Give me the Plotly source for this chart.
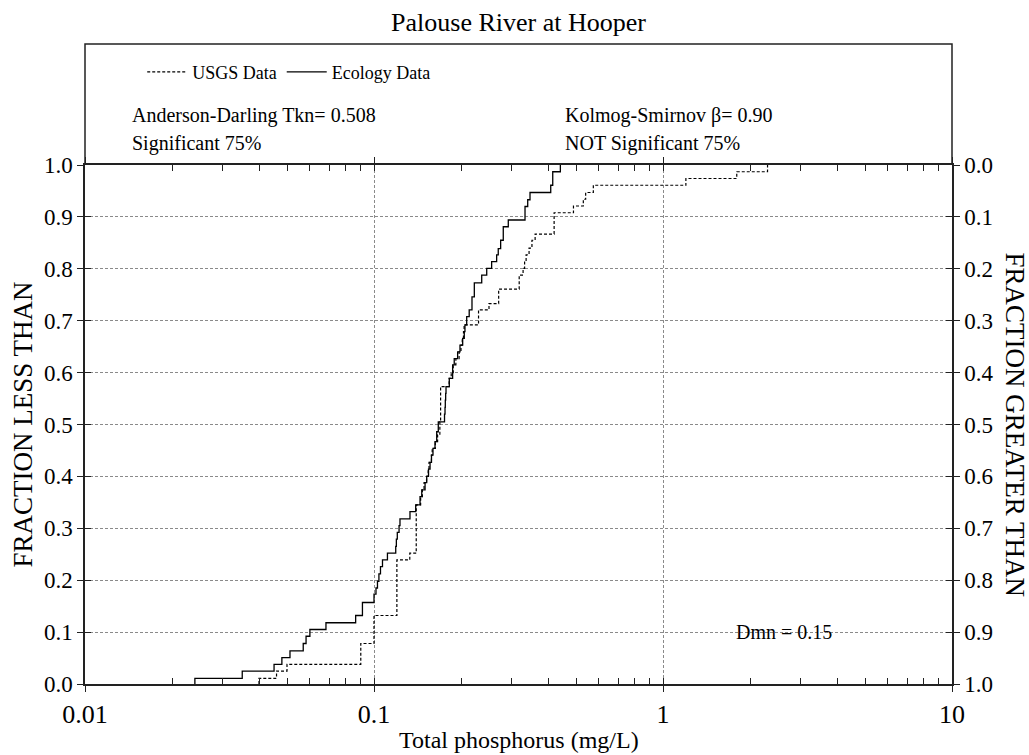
import plotly.graph_objects as go

# Total phosphorus (mg/L) at each step of the empirical CDF, and the
# cumulative fraction reached after that step.
usgs_tp = [0.040, 0.046, 0.050, 0.090, 0.100, 0.120, 0.133, 0.140, 0.145, 0.147,
           0.149, 0.152, 0.154, 0.155, 0.158, 0.159, 0.163, 0.166, 0.169, 0.170,
           0.182, 0.185, 0.188, 0.192, 0.197, 0.200, 0.202, 0.204, 0.205, 0.230,
           0.250, 0.270, 0.318, 0.328, 0.332, 0.336, 0.344, 0.352, 0.361, 0.420,
           0.490, 0.530, 0.540, 0.574, 1.20, 1.80, 2.30]
usgs_frac = [0.011, 0.025, 0.038, 0.078, 0.132, 0.239, 0.252, 0.345, 0.361, 0.374,
             0.388, 0.400, 0.414, 0.427, 0.441, 0.454, 0.467, 0.480, 0.505, 0.573,
             0.589, 0.600, 0.615, 0.627, 0.640, 0.653, 0.666, 0.679, 0.692, 0.721,
             0.733, 0.761, 0.788, 0.801, 0.814, 0.827, 0.840, 0.855, 0.867, 0.908,
             0.921, 0.934, 0.947, 0.961, 0.974, 0.987, 1.000]

eco_tp = [0.0240, 0.0350, 0.0451, 0.0480, 0.0512, 0.0569, 0.0582, 0.0600, 0.0682, 0.0864,
          0.0912, 0.1000, 0.1016, 0.1028, 0.1040, 0.1053, 0.1070, 0.1113, 0.1189, 0.1195,
          0.1204, 0.1221, 0.1230, 0.1332, 0.1394, 0.1443, 0.1463, 0.1502, 0.1522, 0.1544,
          0.1563, 0.1581, 0.1600, 0.1626, 0.1648, 0.1669, 0.1754, 0.1761, 0.1765, 0.1770,
          0.1775, 0.1822, 0.1871, 0.1895, 0.1947, 0.1984, 0.2027, 0.2053, 0.2064, 0.2093,
          0.2135, 0.2183, 0.2224, 0.2359, 0.2455, 0.2553, 0.2657, 0.2691, 0.2743, 0.2801,
          0.2915, 0.3331, 0.3403, 0.3466, 0.4088, 0.4154, 0.4414]
eco_frac = [0.011, 0.025, 0.038, 0.051, 0.064, 0.078, 0.092, 0.105, 0.118, 0.132,
            0.157, 0.173, 0.185, 0.198, 0.212, 0.226, 0.239, 0.252, 0.265, 0.279,
            0.292, 0.305, 0.318, 0.332, 0.345, 0.361, 0.374, 0.388, 0.400, 0.414,
            0.427, 0.441, 0.454, 0.467, 0.486, 0.505, 0.520, 0.533, 0.547, 0.560,
            0.573, 0.589, 0.615, 0.627, 0.640, 0.653, 0.666, 0.679, 0.692, 0.708,
            0.721, 0.746, 0.773, 0.788, 0.801, 0.814, 0.827, 0.839, 0.855, 0.881,
            0.894, 0.920, 0.933, 0.947, 0.961, 0.987, 1.000]

x_major = [0.01, 0.1, 1, 10]
x_major_text = ["0.01", "0.1", "1", "10"]
y_ticks = [i / 10 for i in range(11)]
y_tick_text = [f"{v:.1f}" for v in y_ticks]

SERIF = "Liberation Serif, Times New Roman, serif"
GRID = "#8a8a8a"
AXIS = "#222222"


def ecdf_path(tp, frac):
    # start the staircase on the zero line below the first observation
    return [tp[0]] + list(tp), [0.0] + list(frac)


fig = go.Figure()
ux, uy = ecdf_path(usgs_tp, usgs_frac)
ex, ey = ecdf_path(eco_tp, eco_frac)
fig.add_trace(go.Scatter(x=ux, y=uy, mode="lines", name="USGS Data",
                         line=dict(shape="hv", color="black", width=1.2, dash="3px,2px")))
fig.add_trace(go.Scatter(x=ex, y=ey, mode="lines", name="Ecology Data",
                         line=dict(shape="hv", color="black", width=1.3)))

# exceedance view of the same sample, registered on the right-hand scale
# (FRACTION GREATER THAN) and on the inner-tick overlay axes; drawn with no ink
fig.add_trace(go.Scatter(x=ex, y=[1 - v for v in ey], mode="none", xaxis="x2", yaxis="y2",
                         showlegend=False, hoverinfo="skip"))
fig.add_trace(go.Scatter(x=ex, y=ey, mode="none", xaxis="x2", yaxis="y3",
                         showlegend=False, hoverinfo="skip"))

minor_vals = [m * 10 ** e for e in (-2, -1, 0) for m in range(2, 10)]

fig.update_layout(
    width=1029, height=755,
    margin=dict(l=85, r=77, t=165, b=71),
    paper_bgcolor="white", plot_bgcolor="white",
    font=dict(family=SERIF, color="black", size=20),
    title=dict(text="Palouse River at Hooper", x=0.5, xref="paper",
               y=1 - 22 / 755, yref="container", yanchor="middle",
               font=dict(family=SERIF, size=26, color="black")),
    showlegend=True,
    legend=dict(orientation="h", x=0.066, y=1.179, xanchor="left", yanchor="middle",
                font=dict(family=SERIF, size=18), bgcolor="rgba(0,0,0,0)",
                itemwidth=40, tracegroupgap=0),
    xaxis=dict(type="log", range=[-2, 1], tickvals=x_major, ticktext=x_major_text,
               ticks="outside", ticklen=6, tickcolor=AXIS, tickwidth=1,
               showline=True, linecolor=AXIS, linewidth=1.5, mirror="ticks",
               showgrid=True, gridcolor=GRID, gridwidth=1, griddash="3px,2px",
               zeroline=False, tickfont=dict(size=26),
               minor=dict(tickvals=minor_vals, ticks="inside", ticklen=6,
                          tickcolor=AXIS, showgrid=False)),
    xaxis2=dict(type="log", range=[-2, 1], overlaying="x", side="bottom", anchor="y",
                tickvals=x_major, ticks="inside", ticklen=6, tickcolor=AXIS,
                showticklabels=False, showgrid=False, mirror="ticks", showline=False,
                zeroline=False),
    yaxis=dict(range=[0, 1], tickvals=y_ticks, ticktext=y_tick_text,
               ticks="outside", ticklen=6, tickcolor=AXIS,
               showline=True, linecolor=AXIS, linewidth=1.5,
               showgrid=True, gridcolor=GRID, gridwidth=1, griddash="3px,2px",
               zeroline=False, tickfont=dict(size=23)),
    yaxis2=dict(range=[1, 0], overlaying="y", side="right", anchor="x2",
                tickvals=y_ticks, ticktext=y_tick_text,
                ticks="outside", ticklen=6, tickcolor=AXIS,
                showline=True, linecolor=AXIS, linewidth=1.5,
                showgrid=False, zeroline=False, tickfont=dict(size=23)),
    yaxis3=dict(range=[0, 1], overlaying="y", side="left", anchor="x2",
                tickvals=y_ticks, ticks="inside", ticklen=6, tickcolor=AXIS,
                showticklabels=False, showgrid=False, mirror="ticks",
                showline=False, zeroline=False),
)

# framed panel above the plot (its lower edge is the top axis line)
fig.add_shape(type="path", xref="paper", yref="paper",
              path="M 0,1 L 0,1.233 L 1,1.233 L 1,1",
              line=dict(color=AXIS, width=1.5), fillcolor="rgba(0,0,0,0)")

notes = [
    ("Anderson-Darling Tkn= 0.508", 0.052, 1.096),
    ("Significant 75%", 0.052, 1.042),
    ("Kolmog-Smirnov \u03b2= 0.90", 0.551, 1.096),
    ("NOT Significant 75%", 0.551, 1.042),
]
for text, x, y in notes:
    fig.add_annotation(text=text, xref="paper", yref="paper", x=x, y=y,
                       xanchor="left", yanchor="middle", showarrow=False,
                       font=dict(family=SERIF, size=20, color="black"))

fig.add_annotation(text="Dmn = 0.15", xref="x", yref="y", x=0.4187, y=0.1,
                   xanchor="center", yanchor="middle", showarrow=False,
                   font=dict(family=SERIF, size=20, color="black"))

fig.add_annotation(text="Total phosphorus (mg/L)", xref="paper", yref="paper",
                   x=0.5, y=-0.108, xanchor="center", yanchor="middle",
                   showarrow=False, font=dict(family=SERIF, size=24, color="black"))
fig.add_annotation(text="FRACTION LESS THAN", xref="paper", yref="paper",
                   x=-63 / 867, y=0.5, xanchor="center", yanchor="middle",
                   textangle=-90, showarrow=False,
                   font=dict(family=SERIF, size=27, color="black"))
fig.add_annotation(text="FRACTION GREATER THAN", xref="paper", yref="paper",
                   x=1 + 63 / 867, y=0.5, xanchor="center", yanchor="middle",
                   textangle=90, showarrow=False,
                   font=dict(family=SERIF, size=27, color="black"))

fig.write_html("out.html")
